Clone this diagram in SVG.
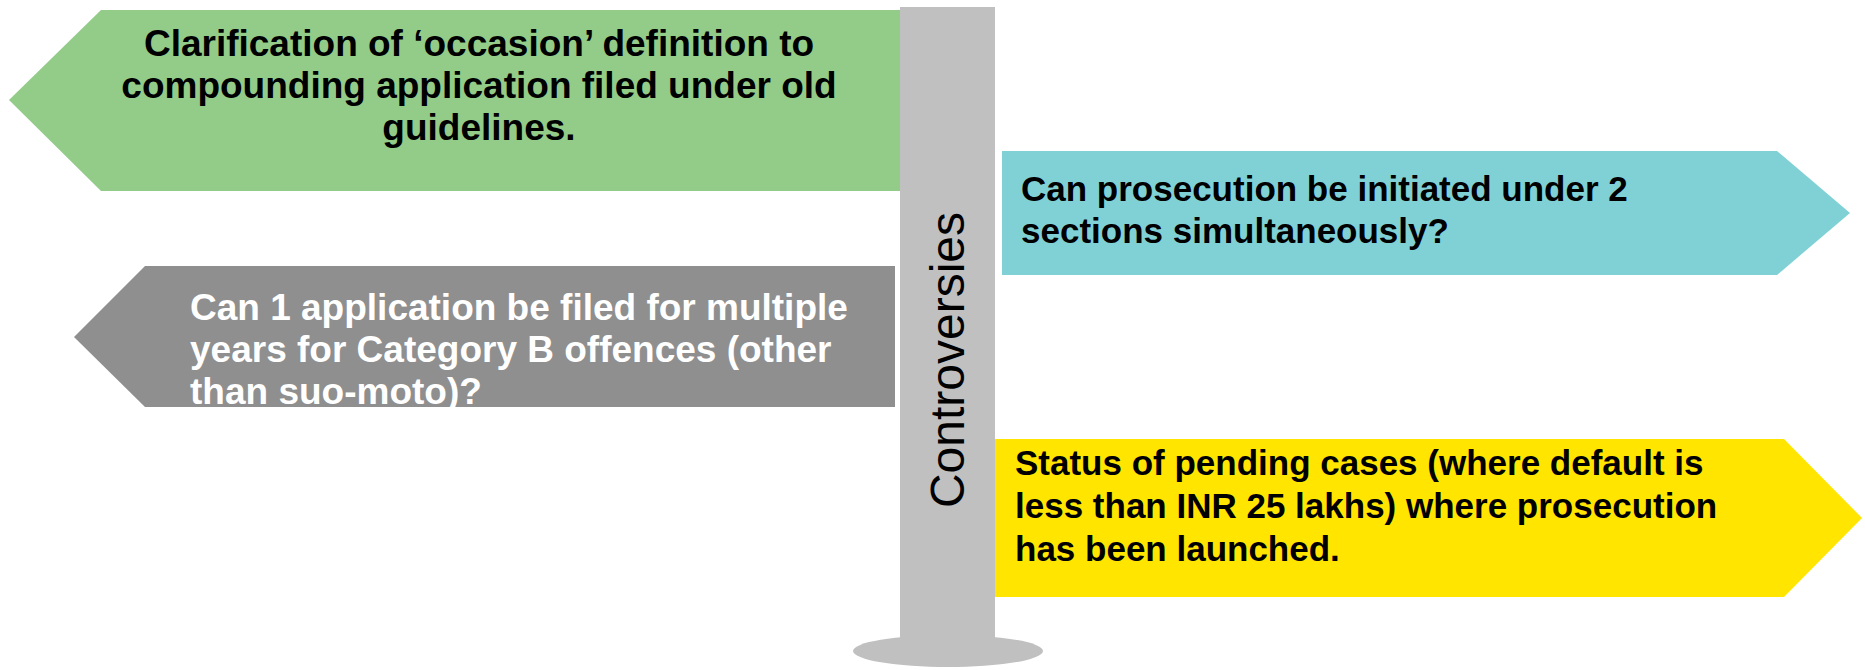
<svg xmlns="http://www.w3.org/2000/svg" width="1865" height="670" viewBox="0 0 1865 670">
<style>
.t{font-family:"Liberation Sans",Arial,sans-serif;font-weight:bold;}
.dark{fill:#000000;}
.light{fill:#FFFFFF;}
.post{fill:#C0C0C0;}
</style>
<rect width="1865" height="670" fill="#FFFFFF"/>
<g id="post">
<ellipse class="post" cx="948" cy="651" rx="95" ry="16"/>
<rect class="post" x="900" y="7" width="95" height="645"/>
<text x="964" y="360" transform="rotate(-90 964 360)" text-anchor="middle" font-family="Liberation Sans, Arial, sans-serif" font-size="48" fill="#000000">Controversies</text>
</g>
<g id="connectors"></g>
<g id="node-green">
<polygon points="9,100 101,10 900,10 900,191 101,191" fill="#93CB89"/>
<text class="t dark" font-size="37" text-anchor="middle"><tspan x="479" y="56">Clarification of ‘occasion’ definition to</tspan><tspan x="479" y="98">compounding application filed under old</tspan><tspan x="479" y="140">guidelines.</tspan></text>
</g>
<g id="node-gray">
<polygon points="74,337 145,266 895,266 895,407 145,407" fill="#8F8F8F"/>
<text class="t light" font-size="37"><tspan x="190" y="320">Can 1 application be filed for multiple</tspan><tspan x="190" y="362">years for Category B offences (other</tspan><tspan x="190" y="404">than suo-moto)?</tspan></text>
</g>
<g id="node-cyan">
<polygon points="1002,151 1777,151 1850,213 1777,275 1002,275" fill="#80D1D6"/>
<text class="t dark" font-size="35"><tspan x="1021" y="201">Can prosecution be initiated under 2</tspan><tspan x="1021" y="243">sections simultaneously?</tspan></text>
</g>
<g id="node-yellow">
<polygon points="995,439 1784,439 1862,518 1784,597 995,597" fill="#FFE500"/>
<text class="t dark" font-size="35"><tspan x="1015" y="475">Status of pending cases (where default is</tspan><tspan x="1015" y="518">less than INR 25 lakhs) where prosecution</tspan><tspan x="1015" y="561">has been launched.</tspan></text>
</g>
</svg>
